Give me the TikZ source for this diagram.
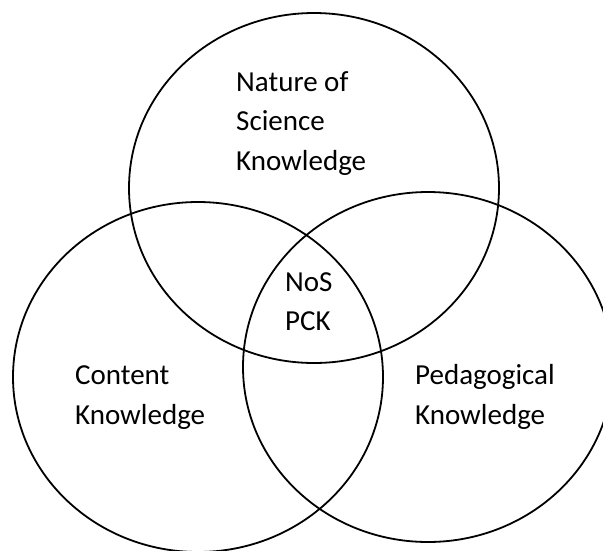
\documentclass[tikz,border=0pt]{standalone}
\usepackage{fontspec}
\setmainfont{Carlito}
\begin{document}
\begin{tikzpicture}[x=1pt,y=-1pt,
  setring/.style={line width=1.8pt,draw=black},
  setlabel/.style={anchor=base west,inner sep=0pt,align=left,
    font=\fontsize{29}{39.5}\selectfont}]
  \useasboundingbox (0,0) rectangle (603,550);
  \clip (0,0) rectangle (603,550);
  % centres of the three sets
  \coordinate (nos) at (314,188);
  \coordinate (ck)  at (198,377);
  \coordinate (pk)  at (428,367);
  \draw[setring] (nos) ellipse [x radius=185pt, y radius=175pt];
  \draw[setring] (ck)  ellipse [x radius=185pt, y radius=175pt];
  \draw[setring] (pk)  ellipse [x radius=185pt, y radius=175pt];
  % labels, placed by the baseline of their last line
  \node[setlabel] (lnos) at (236,170) {Nature of\\Science\\Knowledge};
  \node[setlabel] (lpck) at (285,330.5) {NoS\\PCK};
  \node[setlabel] (lck)  at (75,424) {Content\\Knowledge};
  \node[setlabel] (lpk)  at (415,424) {Pedagogical\\Knowledge};
\end{tikzpicture}
\end{document}
